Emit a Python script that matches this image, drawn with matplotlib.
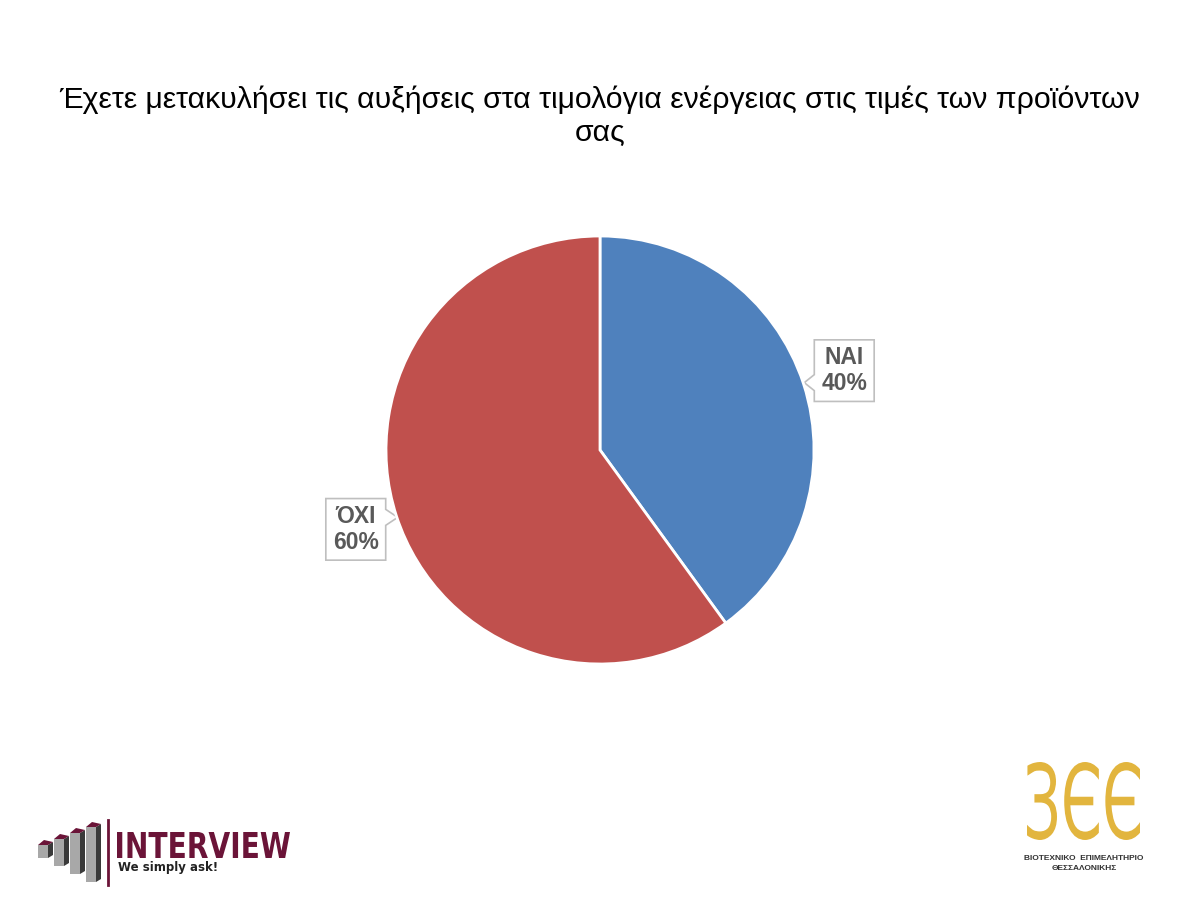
import numpy as np
import matplotlib.pyplot as plt
from matplotlib.patches import Polygon, Rectangle, PathPatch
from matplotlib.textpath import TextPath
from matplotlib.font_manager import FontProperties
from matplotlib.transforms import Affine2D

plt.rcParams['font.family'] = ['Liberation Sans', 'DejaVu Sans']

categories = ['ΝΑΙ', 'ΌΧΙ']
values = [40, 60]
colors = ['#4F81BD', '#C0504D']
title = 'Έχετε μετακυλήσει τις αυξήσεις στα τιμολόγια ενέργειας στις τιμές των προϊόντων\nσας'

fig = plt.figure(figsize=(12, 9), dpi=100)

# overlay in pixel coords for title and logos
bg = fig.add_axes([0, 0, 1, 1])
bg.set_xlim(0, 1200)
bg.set_ylim(900, 0)
bg.axis('off')

bg.text(600, 116, title, ha='center', va='center', fontsize=21.8, color='black',
        linespacing=1.22)


def fit_text(s, x0, x1, y0, y1, color, weight='normal', family='DejaVu Sans'):
    # draw a string as a path stretched into a pixel box
    tp = TextPath((0, 0), s, size=1, prop=FontProperties(family=family, weight=weight))
    ext = tp.get_extents()
    sx = (x1 - x0) / ext.width
    sy = (y1 - y0) / ext.height
    tr = Affine2D().translate(-ext.x0, -ext.y0).scale(sx, -sy).translate(x0, y1)
    bg.add_patch(PathPatch(tr.transform_path(tp), facecolor=color, edgecolor='none',
                           transform=bg.transData))


# pie
ax = fig.add_axes([0.5 - 214 / 1200, 0.5 - 214 / 900, 428 / 1200, 428 / 900])
wedges, _ = ax.pie(values, colors=colors, startangle=90, counterclock=False,
                   wedgeprops=dict(edgecolor='white', linewidth=2))
ax.set_xlim(-1, 1)
ax.set_ylim(-1, 1)
ax.set_aspect('equal')

labels = []
start = 90
for lab, v in zip(categories, values):
    mid = np.deg2rad(start - v / 100 * 360 / 2)
    start -= v / 100 * 360
    x, y = 1.2 * np.cos(mid), 1.2 * np.sin(mid)
    t = ax.text(x, y, f'{lab}\n{v}%', ha='center', va='center', fontsize=16.5,
                fontweight='bold', color='#595959', linespacing=1.2,
                clip_on=False, zorder=6)
    labels.append((t, mid))

# callout boxes around the labels
fig.canvas.draw()
inv = bg.transData.inverted()
for t, mid in labels:
    bb = t.get_window_extent()
    (ax0, ay0), (ax1, ay1) = inv.transform([(bb.x0, bb.y0), (bb.x1, bb.y1)])
    px, py = 7, 6
    left, right = ax0 - px, ax1 + px
    top, bot = min(ay0, ay1) - py, max(ay0, ay1) + py
    cy = (top + bot) / 2
    if np.cos(mid) > 0:
        ny = cy + 12
        pts = [(left, top), (right, top), (right, bot), (left, bot),
               (left, ny + 8), (left - 10, ny), (left, ny - 8)]
    else:
        ny = cy - 12
        pts = [(left, top), (right, top), (right, ny - 8), (right + 12, ny),
               (right, ny + 8), (right, bot), (left, bot)]
    bg.add_patch(Polygon(pts, closed=True, facecolor='white', edgecolor='#BFBFBF',
                         lw=1.2, zorder=5))

# INTERVIEW logo
maroon = '#6B1438'
bar_x = [38, 54, 70, 86]
bar_top = [840, 834, 828, 822]
bar_bot = [858, 866, 874, 882]
for bx, bt, bb_ in zip(bar_x, bar_top, bar_bot):
    bg.add_patch(Rectangle((bx, bt + 5), 10, bb_ - bt - 5,
                           facecolor='#A8A8A8', edgecolor='none'))
    bg.add_patch(Polygon([(bx + 10, bt + 5), (bx + 15, bt + 2), (bx + 15, bb_ - 3), (bx + 10, bb_)],
                         facecolor='#3A3A3A', edgecolor='none'))
    bg.add_patch(Polygon([(bx, bt + 5), (bx + 6, bt), (bx + 15, bt + 2), (bx + 10, bt + 5)],
                         facecolor=maroon, edgecolor='none'))
bg.plot([108, 108], [820, 885], color=maroon, lw=2)
fit_text('INTERVIEW', 117, 290, 832, 858, maroon, weight='bold')
bg.text(118, 867, 'We simply ask!', fontsize=8.5, fontweight='semibold',
        color='#222222', ha='left', va='center', family='DejaVu Sans')

# BEE logo
gold = '#E2B53E'
fit_text('ЗЄЄ', 1027, 1140, 762, 840, gold)
bg.text(1084, 858, 'ΒΙΟΤΕΧΝΙΚΟ  ΕΠΙΜΕΛΗΤΗΡΙΟ', fontsize=6, fontweight='bold',
        color='#333333', ha='center', va='center')
bg.text(1084, 869, 'ΘΕΣΣΑΛΟΝΙΚΗΣ', fontsize=6, fontweight='bold',
        color='#333333', ha='center', va='center')

fig.savefig('out.png', dpi=100, facecolor='white')
